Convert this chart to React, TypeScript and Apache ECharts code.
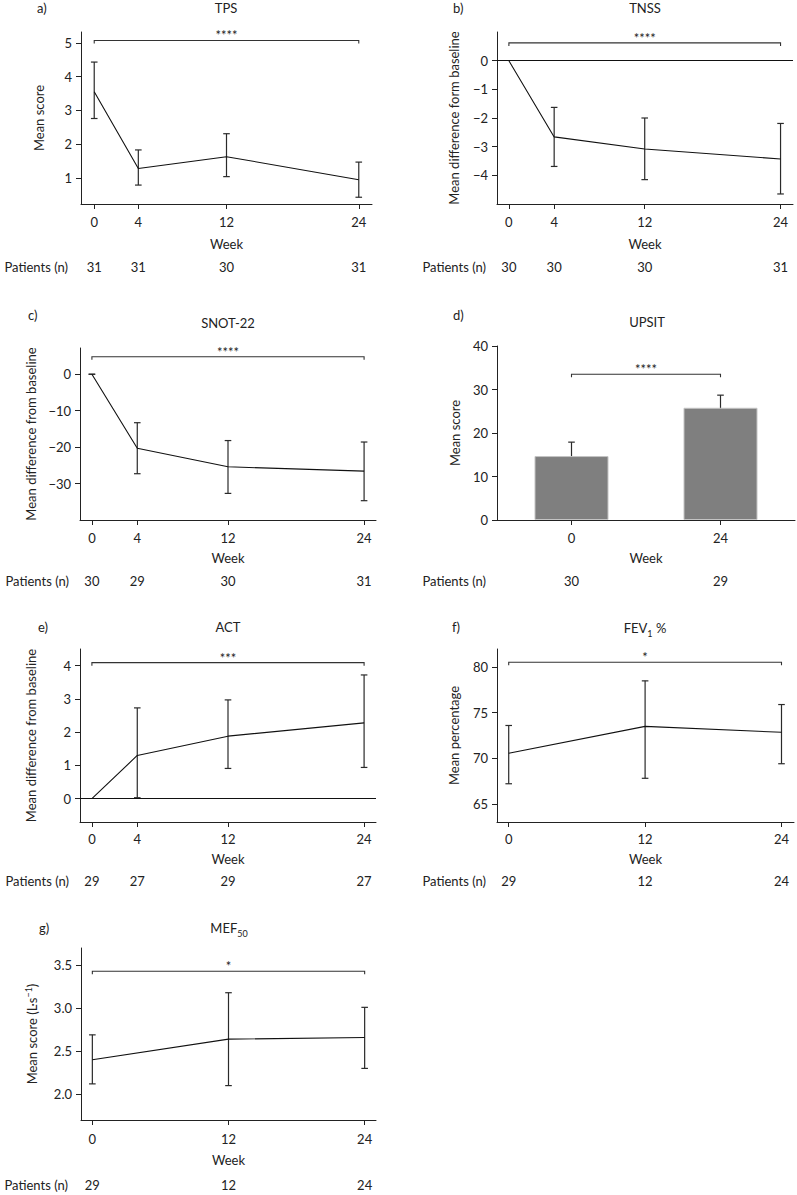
import React, { useEffect, useRef } from 'react';
import * as echarts from 'echarts';

const FONT = 'Lato';
const TXT = '#222';
const AX = '#222';

// a) TPS
const tpsWeeks = [0, 4, 12, 24];
const tpsMean = [3.55, 1.28, 1.63, 0.95];
const tpsLow = [2.76, 0.79, 1.04, 0.43];
const tpsHigh = [4.43, 1.83, 2.31, 1.47];
const tpsN = [31, 31, 30, 31];

// b) TNSS
const tnssWeeks = [0, 4, 12, 24];
const tnssMean = [0, -2.66, -3.08, -3.43];
const tnssLow = [null, -3.69, -4.15, -4.65];
const tnssHigh = [null, -1.63, -2.0, -2.19];
const tnssN = [30, 30, 30, 31];

// c) SNOT-22
const snotWeeks = [0, 4, 12, 24];
const snotMean = [0, -20.3, -25.4, -26.6];
const snotLow = [0, -27.3, -32.7, -34.7];
const snotHigh = [0, -13.3, -18.2, -18.6];
const snotN = [30, 29, 30, 31];

// d) UPSIT
const upsitWeeks = ['0', '24'];
const upsitMean = [14.7, 25.8];
const upsitLow = [11.8, 23.0];
const upsitHigh = [17.9, 28.7];
const upsitN = [30, 29];

// e) ACT
const actWeeks = [0, 4, 12, 24];
const actMean = [0, 1.3, 1.88, 2.28];
const actLow = [null, 0.03, 0.91, 0.94];
const actHigh = [null, 2.73, 2.97, 3.72];
const actN = [29, 27, 29, 27];

// f) FEV1 %
const fevWeeks = [0, 12, 24];
const fevMean = [70.55, 73.5, 72.85];
const fevLow = [67.2, 67.8, 69.4];
const fevHigh = [73.6, 78.5, 75.9];
const fevN = [29, 12, 24];

// g) MEF50
const mefWeeks = [0, 12, 24];
const mefMean = [2.4, 2.64, 2.66];
const mefLow = [2.12, 2.1, 2.3];
const mefHigh = [2.69, 3.18, 3.01];
const mefN = [29, 12, 24];

// y ticks
const tpsTicks = [1, 2, 3, 4, 5];
const tnssTicks = [-4, -3, -2, -1, 0];
const snotTicks = [-30, -20, -10, 0];
const upsitTicks = [0, 10, 20, 30, 40];
const actTicks = [0, 1, 2, 3, 4];
const fevTicks = [65, 70, 75, 80];
const mefTicks = [2.0, 2.5, 3.0, 3.5];

// significance
const sigLevels = { a: 5.07, b: 0.62, c: 4.8, d: 33.5, e: 4.09, f: 80.55, g: 3.43 };
const sigStars = { a: '****', b: '****', c: '****', d: '****', e: '***', f: '*', g: '*' };

const minus = (v: number) => (v < 0 ? '\u2212' + Math.abs(v) : String(v));

type Panel = {
  key: string;
  letter: string;
  title: string;
  titlePos: [number, number];
  letterPos: [number, number];
  grid: { left: number; top: number; width: number; height: number };
  category?: boolean;
  weeks: any[];
  mean: number[];
  low: (number | null)[];
  high: (number | null)[];
  n: number[];
  xMin?: number;
  xMax?: number;
  yMin: number;
  yMax: number;
  yTicks: number[];
  yFmt: (v: number) => string;
  yName: string;
  yNameGap: number;
  labelMargin: number;
  weekGap: number;
  nOffset: number;
  nGap: number;
  zeroLine?: boolean;
};

const panels: Panel[] = [
  {
    key: 'a', letter: 'a)', title: 'TPS', titlePos: [226, 8], letterPos: [37, 8],
    grid: { left: 81, top: 32, width: 291, height: 172 },
    weeks: tpsWeeks, mean: tpsMean, low: tpsLow, high: tpsHigh, n: tpsN,
    xMin: -1.2, xMax: 25.2, yMin: 0.23, yMax: 5.32, yTicks: tpsTicks, yFmt: minus,
    yName: 'Mean score', yNameGap: 34, labelMargin: 11, weekGap: 33, nOffset: 63, nGap: 13,
  },
  {
    key: 'b', letter: 'b)', title: 'TNSS', titlePos: [645, 8], letterPos: [453, 8],
    grid: { left: 497, top: 32, width: 296, height: 172 },
    weeks: tnssWeeks, mean: tnssMean, low: tnssLow, high: tnssHigh, n: tnssN,
    xMin: -1.05, xMax: 25.1, yMin: -5, yMax: 1, yTicks: tnssTicks, yFmt: minus,
    yName: 'Mean difference form baseline', yNameGap: 35, labelMargin: 11, weekGap: 33, nOffset: 63, nGap: 11,
    zeroLine: true,
  },
  {
    key: 'c', letter: 'c)', title: 'SNOT-22', titlePos: [228, 323], letterPos: [28, 315],
    grid: { left: 80, top: 348, width: 296, height: 172 },
    weeks: snotWeeks, mean: snotMean, low: snotLow, high: snotHigh, n: snotN,
    xMin: -1.05, xMax: 25.05, yMin: -40, yMax: 7.2, yTicks: snotTicks, yFmt: minus,
    yName: 'Mean difference from baseline', yNameGap: 41, labelMargin: 11, weekGap: 31, nOffset: 61, nGap: 11,
  },
  {
    key: 'd', letter: 'd)', title: 'UPSIT', titlePos: [647, 322], letterPos: [453, 315],
    grid: { left: 497, top: 346, width: 298, height: 174 },
    category: true,
    weeks: upsitWeeks, mean: upsitMean, low: upsitLow, high: upsitHigh, n: upsitN,
    yMin: 0, yMax: 40, yTicks: upsitTicks, yFmt: minus,
    yName: 'Mean score', yNameGap: 34, labelMargin: 11, weekGap: 31, nOffset: 61, nGap: 11,
  },
  {
    key: 'e', letter: 'e)', title: 'ACT', titlePos: [228, 627], letterPos: [38, 627],
    grid: { left: 80, top: 649, width: 296, height: 173 },
    weeks: actWeeks, mean: actMean, low: actLow, high: actHigh, n: actN,
    xMin: -1.05, xMax: 25.05, yMin: -0.7, yMax: 4.5, yTicks: actTicks, yFmt: minus,
    yName: 'Mean difference from baseline', yNameGap: 41, labelMargin: 10, weekGap: 30, nOffset: 59, nGap: 11,
    zeroLine: true,
  },
  {
    key: 'f', letter: 'f)', title: 'FEV{sub|1} %', titlePos: [645, 628], letterPos: [452, 627],
    grid: { left: 497, top: 649, width: 297, height: 173 },
    weeks: fevWeeks, mean: fevMean, low: fevLow, high: fevHigh, n: fevN,
    xMin: -1.03, xMax: 25.1, yMin: 63, yMax: 82, yTicks: fevTicks, yFmt: minus,
    yName: 'Mean percentage', yNameGap: 35, labelMargin: 10, weekGap: 30, nOffset: 59, nGap: 11,
  },
  {
    key: 'g', letter: 'g)', title: 'MEF{sub|50}', titlePos: [229, 928], letterPos: [39, 928],
    grid: { left: 81, top: 948, width: 295, height: 172 },
    weeks: mefWeeks, mean: mefMean, low: mefLow, high: mefHigh, n: mefN,
    xMin: -1, xMax: 25, yMin: 1.7, yMax: 3.7, yTicks: mefTicks, yFmt: (v: number) => v.toFixed(1),
    yName: 'Mean score (L\u00b7s{sup|\u22121})', yNameGap: 41, labelMargin: 12, weekGap: 33, nOffset: 65, nGap: 13,
  },
];

const richText = {
  sub: { fontSize: 9, fontFamily: FONT, color: TXT, fill: TXT, verticalAlign: 'bottom', lineHeight: 9 },
  sup: { fontSize: 9, fontFamily: FONT, color: TXT, fill: TXT, verticalAlign: 'top', lineHeight: 9 },
};

function buildOption() {
  const grid: any[] = [];
  const xAxis: any[] = [];
  const yAxis: any[] = [];
  const series: any[] = [];
  const graphic: any[] = [];
  const txt = { fontSize: 13, color: TXT, fontFamily: FONT };

  panels.forEach((p, i) => {
    grid.push({ ...p.grid, containLabel: false, outerBoundsMode: 'none' });
    const xi = i * 2;
    const nIdx = p.weeks.map((_w: any, k: number) => (p.category ? k : p.weeks[k]));
    if (p.category) {
      xAxis.push({
        gridIndex: i, type: 'category', data: p.weeks,
        axisLine: { show: true, onZero: false, lineStyle: { color: AX, width: 1 } },
        axisTick: { show: true, alignWithLabel: true, length: 5, lineStyle: { color: AX } },
        axisLabel: { ...txt, margin: p.labelMargin },
        splitLine: { show: false },
        name: 'Week', nameLocation: 'middle', nameGap: p.weekGap, nameTextStyle: txt,
      });
    } else {
      xAxis.push({
        gridIndex: i, type: 'value', min: p.xMin, max: p.xMax,
        axisLine: { show: true, onZero: false, lineStyle: { color: AX, width: 1 } },
        axisTick: { show: true, length: 5, customValues: p.weeks, lineStyle: { color: AX } },
        axisLabel: { ...txt, margin: p.labelMargin, customValues: p.weeks },
        splitLine: { show: false },
        name: 'Week', nameLocation: 'middle', nameGap: p.weekGap, nameTextStyle: txt,
      });
    }
    // patients row (value axis aligned with the week positions / category centres)
    const nMin = p.category ? -0.5 : p.xMin;
    const nMax = p.category ? p.weeks.length - 0.5 : p.xMax;
    xAxis.push({
      gridIndex: i, type: 'value', min: nMin, max: nMax, position: 'bottom', offset: p.nOffset,
      axisLine: { show: false, onZero: false }, axisTick: { show: false }, splitLine: { show: false },
      axisLabel: {
        ...txt, margin: 0, verticalAlign: 'middle', customValues: nIdx,
        formatter: (v: number) => {
          const k = nIdx.indexOf(v);
          return k >= 0 ? String(p.n[k]) : '';
        },
      },
      name: 'Patients (n)', nameLocation: 'start', nameGap: p.nGap,
      nameTextStyle: { ...txt, align: 'right', verticalAlign: 'middle' },
    });
    yAxis.push({
      gridIndex: i, type: 'value', min: p.yMin, max: p.yMax,
      axisLine: { show: true, onZero: false, lineStyle: { color: AX, width: 1 } },
      axisTick: { show: true, length: 5, customValues: p.yTicks, lineStyle: { color: AX } },
      axisLabel: { ...txt, margin: 9, customValues: p.yTicks, formatter: p.yFmt },
      splitLine: { show: false },
      name: p.yName, nameLocation: 'middle', nameRotate: 90, nameGap: p.yNameGap,
      nameTextStyle: { ...txt, lineHeight: 16, rich: richText },
    });

    const xIdx = (k: number) => (p.category ? k : p.weeks[k]);

    if (p.category) {
      series.push({
        type: 'bar', xAxisIndex: xi, yAxisIndex: i, barWidth: 74,
        data: p.mean,
        itemStyle: { color: '#7f7f7f', borderColor: '#c4c4c4', borderWidth: 1 },
        silent: true,
      });
    } else {
      series.push({
        type: 'line', xAxisIndex: xi, yAxisIndex: i, symbol: 'none', showSymbol: false,
        data: p.weeks.map((w, k) => [w, p.mean[k]]),
        lineStyle: { color: '#111', width: 1.1 },
        silent: true,
        markLine: p.zeroLine
          ? {
              silent: true, symbol: 'none', label: { show: false },
              lineStyle: { color: '#111', type: 'solid', width: 1 },
              data: [{ yAxis: 0 }],
            }
          : undefined,
      });
    }

    const errData: any[] = [];
    p.weeks.forEach((_w, k) => {
      if (p.low[k] !== null && p.high[k] !== null) errData.push([xIdx(k), p.low[k], p.high[k]]);
    });
    series.push({
      type: 'custom', xAxisIndex: xi, yAxisIndex: i, silent: true,
      encode: { x: 0, y: [1, 2] },
      data: errData,
      renderItem: (_params: any, api: any) => {
        const x = api.value(0);
        const a = api.coord([x, api.value(1)]);
        const b = api.coord([x, api.value(2)]);
        const c = 3.3;
        const st = { stroke: '#2a2a2a', lineWidth: 1.2 };
        return {
          type: 'group',
          children: [
            { type: 'line', shape: { x1: a[0], y1: a[1], x2: b[0], y2: b[1] }, style: st },
            { type: 'line', shape: { x1: a[0] - c, y1: a[1], x2: a[0] + c, y2: a[1] }, style: st },
            { type: 'line', shape: { x1: b[0] - c, y1: b[1], x2: b[0] + c, y2: b[1] }, style: st },
          ],
        };
      },
    });

    const sy = (sigLevels as any)[p.key];
    const stars = (sigStars as any)[p.key];
    const last = p.weeks.length - 1;
    series.push({
      type: 'custom', xAxisIndex: xi, yAxisIndex: i, silent: true,
      encode: { x: [0, 1], y: 2 },
      data: [[xIdx(0), xIdx(last), sy]],
      renderItem: (_params: any, api: any) => {
        const l = api.coord([api.value(0), api.value(2)]);
        const r = api.coord([api.value(1), api.value(2)]);
        const t = 3;
        return {
          type: 'group',
          children: [
            {
              type: 'polyline',
              shape: { points: [[l[0], l[1] + t], [l[0], l[1]], [r[0], r[1]], [r[0], r[1] + t]] },
              style: { stroke: '#333', lineWidth: 1.1, fill: 'none' },
            },
            {
              type: 'text', x: (l[0] + r[0]) / 2, y: l[1] + 1.5,
              style: { text: stars, align: 'center', verticalAlign: 'bottom', fontSize: 13, fontFamily: FONT, fill: TXT },
            },
          ],
        };
      },
    });

    graphic.push({
      type: 'text', x: p.titlePos[0], y: p.titlePos[1],
      style: {
        text: p.title, align: 'center', verticalAlign: 'middle', fontSize: 13, fontFamily: FONT, fill: TXT,
        lineHeight: 19, rich: richText,
      },
    });
    graphic.push({
      type: 'text', x: p.letterPos[0], y: p.letterPos[1],
      style: { text: p.letter, align: 'left', verticalAlign: 'middle', fontSize: 13, fontFamily: FONT, fill: TXT },
    });
  });

  return {
    animation: false,
    backgroundColor: '#ffffff',
    textStyle: { fontFamily: FONT },
    grid, xAxis, yAxis, series, graphic,
  };
}

export default function App() {
  const ref = useRef<HTMLDivElement>(null);
  useEffect(() => {
    if (!ref.current) return;
    const chart = echarts.init(ref.current, undefined, { renderer: 'svg' });
    chart.setOption(buildOption() as any);
    return () => chart.dispose();
  }, []);
  return (
    <div
      ref={ref}
      style={{ position: 'absolute', left: 0, top: 0, width: 797, height: 1195, background: '#fff' }}
    />
  );
}
